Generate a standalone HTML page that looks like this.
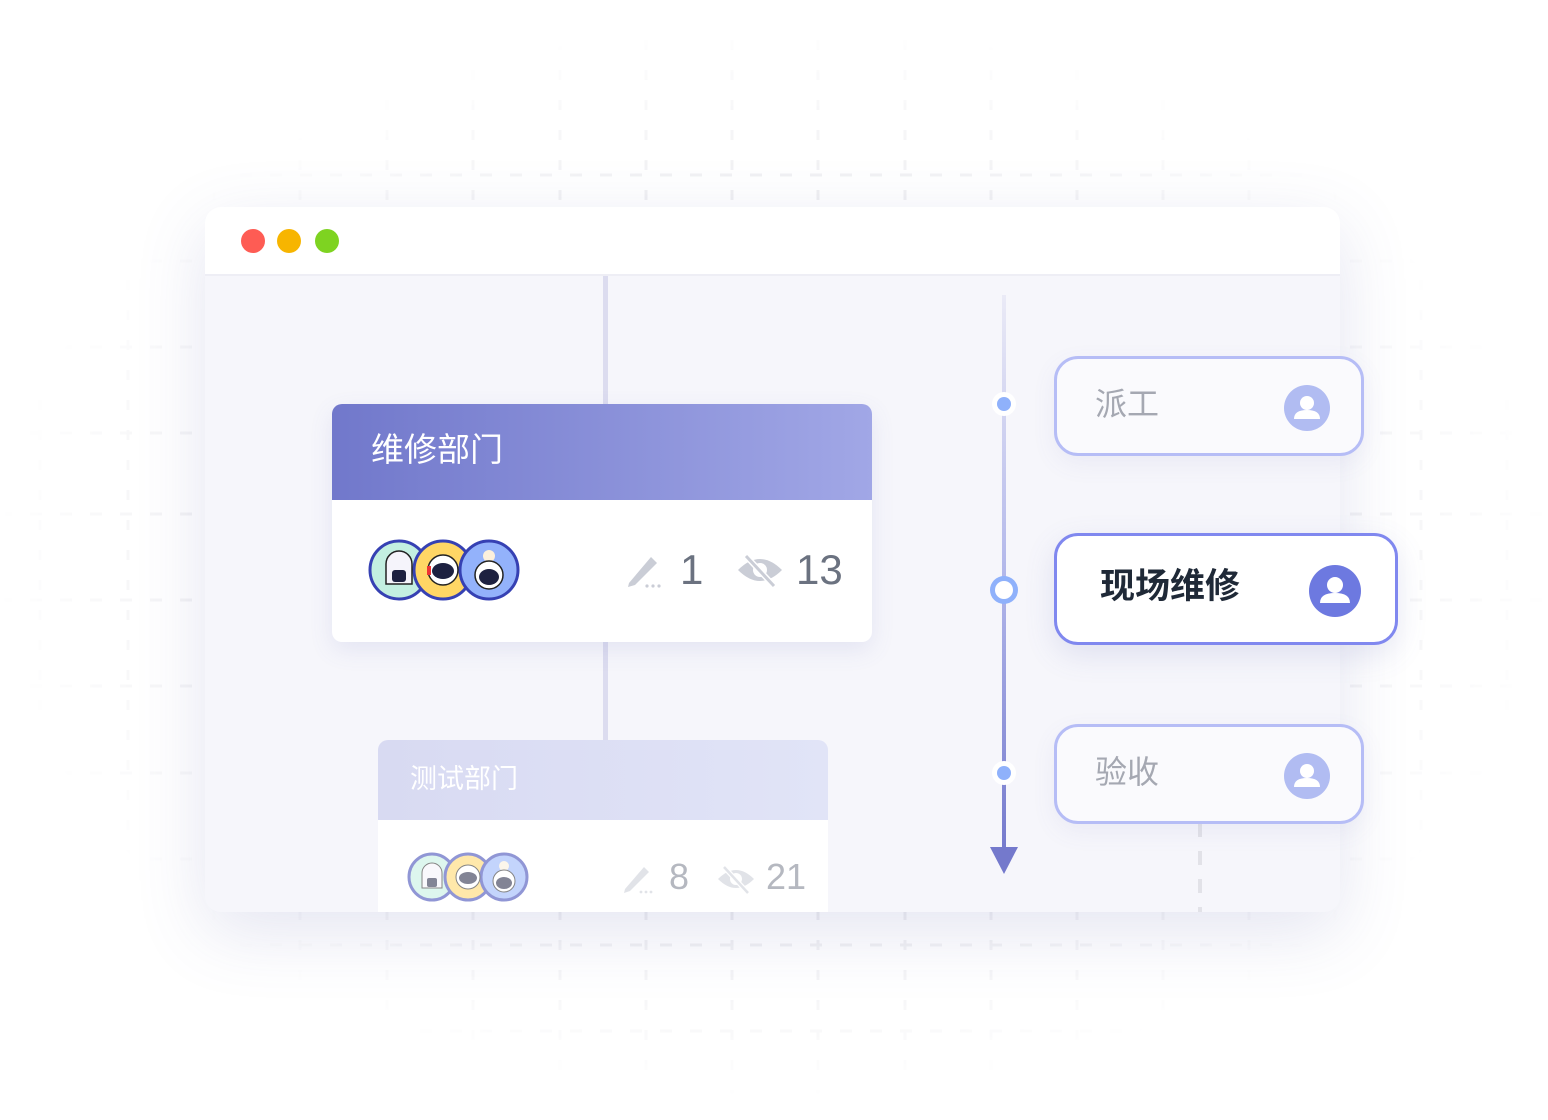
<!DOCTYPE html>
<html><head><meta charset="utf-8"><style>
html,body{margin:0;padding:0;background:#fff;}
body{width:1548px;height:1120px;position:relative;overflow:hidden;font-family:"Liberation Sans","Noto Sans CJK SC",sans-serif;}
.abs{position:absolute;}
#grid{position:absolute;left:0;top:0;-webkit-mask-image:radial-gradient(ellipse 780px 540px at 774px 560px,#000 60%,transparent 100%);mask-image:radial-gradient(ellipse 780px 540px at 774px 560px,#000 60%,transparent 100%);}
.win{left:205px;top:207px;width:1135px;height:705px;border-radius:16px;background:#f6f6fb;overflow:hidden;box-shadow:0 20px 70px rgba(90,95,170,0.16);}
.bar{left:0;top:0;width:1135px;height:67px;background:#fff;border-bottom:2px solid #eeeef5;}
.dot{width:24px;height:24px;border-radius:50%;top:22px;}
.card{background:#fff;border-radius:10px;overflow:hidden;box-shadow:0 8px 24px rgba(100,105,180,0.12);}
.step{border-radius:24px;background:#fafafd;border:3px solid #b6bdf6;box-sizing:border-box;box-shadow:0 8px 24px rgba(100,105,180,0.08);}
.step span{position:absolute;font-size:32px;color:#a5a8b2;line-height:40px;}
</style></head><body>
<svg id="grid" width="1548" height="1120">
<g stroke="#ececef" stroke-width="3" stroke-dasharray="12 18">
<line x1="0" y1="175" x2="1548" y2="175"/><line x1="0" y1="261" x2="1548" y2="261"/><line x1="0" y1="347" x2="1548" y2="347"/><line x1="0" y1="433" x2="1548" y2="433"/><line x1="0" y1="514" x2="1548" y2="514"/><line x1="0" y1="600" x2="1548" y2="600"/><line x1="0" y1="686" x2="1548" y2="686"/><line x1="0" y1="773" x2="1548" y2="773"/><line x1="0" y1="859" x2="1548" y2="859"/><line x1="0" y1="945" x2="1548" y2="945"/><line x1="0" y1="1031" x2="1548" y2="1031"/>
</g>
<g stroke="#ececef" stroke-width="3" stroke-dasharray="10 20">
<line x1="40" y1="40" x2="40" y2="1100"/><line x1="128" y1="40" x2="128" y2="1100"/><line x1="214" y1="40" x2="214" y2="1100"/><line x1="300" y1="40" x2="300" y2="1100"/><line x1="387" y1="40" x2="387" y2="1100"/><line x1="473" y1="40" x2="473" y2="1100"/><line x1="560" y1="40" x2="560" y2="1100"/><line x1="646" y1="40" x2="646" y2="1100"/><line x1="732" y1="40" x2="732" y2="1100"/><line x1="818" y1="40" x2="818" y2="1100"/><line x1="905" y1="40" x2="905" y2="1100"/><line x1="991" y1="40" x2="991" y2="1100"/><line x1="1077" y1="40" x2="1077" y2="1100"/><line x1="1163" y1="40" x2="1163" y2="1100"/><line x1="1249" y1="40" x2="1249" y2="1100"/><line x1="1335" y1="40" x2="1335" y2="1100"/><line x1="1421" y1="40" x2="1421" y2="1100"/><line x1="1507" y1="40" x2="1507" y2="1100"/>
</g></svg>

<div class="abs win">
 <div class="abs bar"></div>
 <div class="abs dot" style="left:36px;background:#fe5c54"></div>
 <div class="abs dot" style="left:72px;background:#f7b500"></div>
 <div class="abs dot" style="left:110px;background:#7ed321"></div>
 <div class="abs" style="left:398px;top:69px;width:5px;height:640px;background:#dcdcef"></div>
 <div class="abs" style="left:993px;top:560px;width:4px;height:150px;background:repeating-linear-gradient(#e2e2e8 0 14px,transparent 14px 28px)"></div>
</div>

<div class="abs card" style="left:332px;top:404px;width:540px;height:238px;">
 <div class="abs" style="left:0;top:0;width:540px;height:96px;background:linear-gradient(90deg,#7178cb,#a1a7e6);"></div>
 <div class="abs" style="left:39px;top:26px;font-size:33px;color:#fff;line-height:40px;">维修部门</div>
 <svg class="abs" style="left:30px;top:130px" width="200" height="70">
  <g stroke="#3641b3" stroke-width="3">
   <circle cx="37" cy="36" r="29" fill="#c3efe1"/><circle cx="81" cy="36" r="29" fill="#ffd665"/><circle cx="127" cy="36" r="29" fill="#93b2fb"/></g>
  <path d="M24 50 v-20 a13 13 0 0 1 26 0 v20z" fill="#f5f4fb" stroke="#222" stroke-width="1.5"/><rect x="30" y="36" width="14" height="12" rx="3" fill="#1d2140"/>
  <circle cx="81" cy="36" r="15" fill="#fff" stroke="#222" stroke-width="1.5"/><ellipse cx="81" cy="37" rx="11" ry="8" fill="#1d2140"/><rect x="65" y="32" width="4" height="9" fill="#e33"/>
  <circle cx="127" cy="22" r="6" fill="#fbf0dc"/><circle cx="127" cy="41" r="14" fill="#fff" stroke="#222" stroke-width="1.5"/><ellipse cx="127" cy="43" rx="10" ry="8" fill="#1d2140"/>
 </svg>
 <svg class="abs" style="left:293px;top:145px" width="40" height="40"><path d="M4 34 L26 8 L32 14 L10 36 L3 38Z" fill="#cacdd6"/><circle cx="22" cy="37" r="1.6" fill="#cacdd6"/><circle cx="28" cy="37" r="1.6" fill="#cacdd6"/><circle cx="34" cy="37" r="1.6" fill="#cacdd6"/></svg>
 <div class="abs" style="left:348px;top:142px;font-size:42px;color:#6b7280;line-height:48px;">1</div>
 <svg class="abs" style="left:404px;top:148px" width="50" height="40"><path d="M2 18 Q24 -4 46 18 Q24 40 2 18Z" fill="#cacdd6"/><circle cx="24" cy="18" r="7" fill="#fff"/><line x1="10" y1="4" x2="38" y2="34" stroke="#fff" stroke-width="6"/><line x1="10" y1="4" x2="38" y2="34" stroke="#cacdd6" stroke-width="3"/></svg>
 <div class="abs" style="left:464px;top:142px;font-size:42px;color:#6b7280;line-height:48px;">13</div>
</div>

<div class="abs" style="left:378px;top:740px;width:450px;height:172px;overflow:hidden;border-radius:10px 10px 0 0;">
 <div class="abs" style="left:0;top:0;width:450px;height:80px;background:linear-gradient(90deg,#d8daf2,#e1e4f7);"></div>
 <div class="abs" style="left:0;top:80px;width:450px;height:100px;background:#fff;"></div>
 <div class="abs" style="left:32px;top:21px;font-size:27px;color:#fff;line-height:36px;">测试部门</div>
 <svg class="abs" style="left:28px;top:110px" width="160" height="56" opacity="0.55">
  <g stroke="#3641b3" stroke-width="3">
   <circle cx="26" cy="27" r="23" fill="#c3efe1"/><circle cx="62" cy="27" r="23" fill="#ffd665"/><circle cx="98" cy="27" r="23" fill="#93b2fb"/></g>
  <path d="M16 38 v-15 a10 10 0 0 1 20 0 v15z" fill="#f5f4fb" stroke="#222"/><rect x="21" y="28" width="10" height="9" rx="2" fill="#1d2140"/>
  <circle cx="62" cy="27" r="12" fill="#fff" stroke="#222"/><ellipse cx="62" cy="28" rx="9" ry="6" fill="#1d2140"/>
  <circle cx="98" cy="16" r="5" fill="#fbf0dc"/><circle cx="98" cy="31" r="11" fill="#fff" stroke="#222"/><ellipse cx="98" cy="33" rx="8" ry="6" fill="#1d2140"/>
 </svg>
 <svg class="abs" style="left:244px;top:120px" width="34" height="34" opacity="0.55"><path d="M3 29 L22 7 L27 12 L8 31 L2 33Z" fill="#cacdd6"/><circle cx="19" cy="32" r="1.4" fill="#cacdd6"/><circle cx="24" cy="32" r="1.4" fill="#cacdd6"/><circle cx="29" cy="32" r="1.4" fill="#cacdd6"/></svg>
 <div class="abs" style="left:291px;top:116px;font-size:36px;color:#b5b8c0;line-height:42px;">8</div>
 <svg class="abs" style="left:338px;top:124px" width="42" height="32" opacity="0.55"><path d="M2 15 Q20 -3 38 15 Q20 33 2 15Z" fill="#cacdd6"/><circle cx="20" cy="15" r="6" fill="#fff"/><line x1="8" y1="3" x2="32" y2="29" stroke="#fff" stroke-width="5"/><line x1="8" y1="3" x2="32" y2="29" stroke="#cacdd6" stroke-width="2.5"/></svg>
 <div class="abs" style="left:388px;top:116px;font-size:36px;color:#b5b8c0;line-height:42px;">21</div>
</div>

<svg class="abs" style="left:0;top:0" width="1548" height="1120">
 <defs><linearGradient id="tl" x1="0" y1="0" x2="0" y2="1"><stop offset="0" stop-color="#eaeaf6"/><stop offset="0.5" stop-color="#b2b7ea"/><stop offset="1" stop-color="#7479cc"/></linearGradient></defs>
 <rect x="1002" y="295" width="4" height="560" fill="url(#tl)"/>
 <path d="M990 847 L1018 847 L1004 874Z" fill="#7479cc"/>
 <circle cx="1004" cy="404" r="12" fill="#fff"/><circle cx="1004" cy="404" r="7" fill="#8fb1fb"/>
 <circle cx="1004" cy="590" r="14" fill="#8fb1fb"/><circle cx="1004" cy="590" r="9" fill="#fff"/>
 <circle cx="1004" cy="773" r="12" fill="#fff"/><circle cx="1004" cy="773" r="7" fill="#8fb1fb"/>
</svg>

<div class="abs step" style="left:1054px;top:356px;width:310px;height:100px;"><span style="left:38px;top:25px;">派工</span>
 <svg class="abs" style="left:226px;top:25px" width="48" height="48"><circle cx="24" cy="24" r="23" fill="#b1bcf2"/><circle cx="24" cy="19" r="7" fill="#fff"/><path d="M11 35 Q11 26 24 26 Q37 26 37 35Z" fill="#fff"/></svg></div>
<div class="abs step" style="left:1054px;top:533px;width:344px;height:112px;background:#fff;border-color:#8088ef;box-shadow:0 10px 30px rgba(100,105,180,0.15);"><span style="left:43px;top:31px;color:#1f2937;font-weight:bold;font-size:35px;">现场维修</span>
 <svg class="abs" style="left:251px;top:28px" width="54" height="54"><circle cx="27" cy="27" r="26" fill="#6d79e0"/><circle cx="27" cy="21" r="8" fill="#fff"/><path d="M12 39 Q12 29 27 29 Q42 29 42 39Z" fill="#fff"/></svg></div>
<div class="abs step" style="left:1054px;top:724px;width:310px;height:100px;"><span style="left:38px;top:25px;">验收</span>
 <svg class="abs" style="left:226px;top:25px" width="48" height="48"><circle cx="24" cy="24" r="23" fill="#b1bcf2"/><circle cx="24" cy="19" r="7" fill="#fff"/><path d="M11 35 Q11 26 24 26 Q37 26 37 35Z" fill="#fff"/></svg></div>
</body></html>
